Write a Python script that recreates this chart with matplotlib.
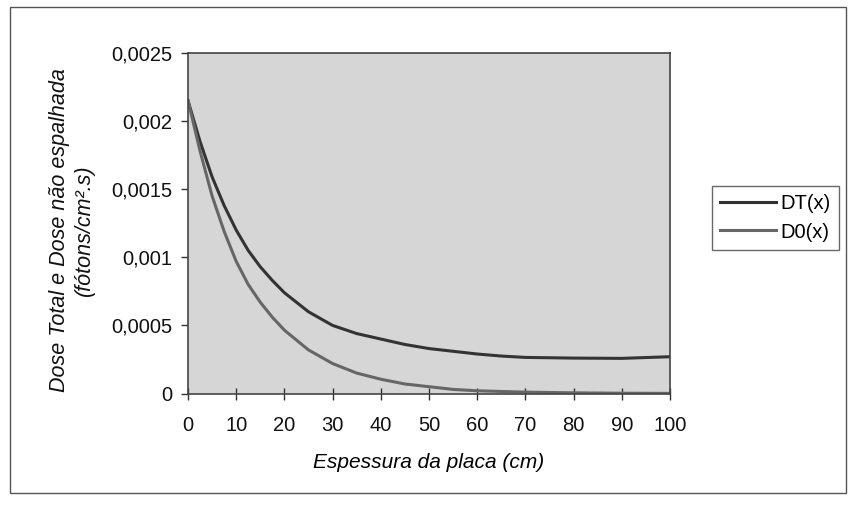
import matplotlib.pyplot as plt
from matplotlib.ticker import FuncFormatter
from matplotlib.patches import Rectangle

# espessura da placa (cm)
x_dt = [0, 2.5, 5, 7.5, 10, 12.5, 15, 17.5, 20, 25, 30, 35, 40, 45, 50, 55, 60,
        65, 70, 80, 90, 100]
dt = [0.00215, 0.00185, 0.00159, 0.00138, 0.00120, 0.00105, 0.00093, 0.00083,
      0.00074, 0.00060, 0.00050, 0.00044, 0.00040, 0.00036, 0.00033, 0.00031,
      0.00029, 0.000275, 0.000265, 0.00026, 0.000258, 0.00027]

x_d0 = [0, 2.5, 5, 7.5, 10, 12.5, 15, 17.5, 20, 25, 30, 35, 40, 45, 50, 55, 60,
        70, 80, 90, 100]
d0 = [0.00215, 0.00178, 0.00145, 0.00119, 0.00097, 0.00080, 0.00067, 0.00056,
      0.000465, 0.00032, 0.00022, 0.00015, 0.000105, 0.00007, 0.00005, 0.00003,
      0.00002, 0.00001, 0.000005, 0.000002, 0.000001]

x_ticks = [0, 10, 20, 30, 40, 50, 60, 70, 80, 90, 100]
y_ticks = [0, 0.0005, 0.001, 0.0015, 0.002, 0.0025]

plt.rcParams['font.family'] = ['Liberation Sans', 'DejaVu Sans']
plt.rcParams['font.size'] = 14.5

fig = plt.figure(figsize=(8.48, 5.09), dpi=100)
fig.patch.set_facecolor('white')

# moldura externa do grafico
fig.patches.append(Rectangle((10 / 848, 1 - 493 / 509), 836 / 848, 486 / 509,
                             transform=fig.transFigure, fill=False,
                             edgecolor='#555555', linewidth=1.0))

ax = fig.add_axes([0.2217, 0.2269, 0.790 - 0.2217, 0.8959 - 0.2269])
ax.set_facecolor('#d6d6d6')

ax.plot(x_dt, dt, color='#333333', linewidth=2.2, label='DT(x)')
ax.plot(x_d0, d0, color='#666666', linewidth=2.2, label='D0(x)')

ax.set_xlim(0, 100)
ax.set_ylim(0, 0.0025)
ax.set_xticks(x_ticks)
ax.set_yticks(y_ticks)


def virgula(v, pos):
    if v == 0:
        return '0'
    return ('%g' % v).replace('.', ',')


ax.yaxis.set_major_formatter(FuncFormatter(virgula))
ax.tick_params(axis='x', direction='inout', length=9, width=1, colors='#333333',
               labelcolor='#111111', pad=12)
ax.tick_params(axis='y', direction='out', length=5, width=1, colors='#333333',
               labelcolor='#111111', pad=6)

for s in ax.spines.values():
    s.set_color('#444444')
    s.set_linewidth(1.2)

ax.set_xlabel('Espessura da placa (cm)', style='italic', fontsize=15, labelpad=13)

# rotulo do eixo y posicionado a mao
fig.text(72 / 848, 1 - 230 / 509, 'Dose Total e Dose não espalhada\n(fótons/cm².s)',
         rotation=90, ha='center', va='center', style='italic', fontsize=15.5,
         multialignment='center', linespacing=1.3, color='#111111')

leg = ax.legend(loc='center left', bbox_to_anchor=(712 / 848, 1 - 218 / 509),
                bbox_transform=fig.transFigure, frameon=True, fancybox=False,
                borderaxespad=0, handlelength=2.8, handletextpad=0.2,
                borderpad=0.4, labelspacing=0.45, fontsize=14.5)
leg.get_frame().set_edgecolor('#444444')
leg.get_frame().set_linewidth(1.0)

fig.savefig('out.png', dpi=100)
